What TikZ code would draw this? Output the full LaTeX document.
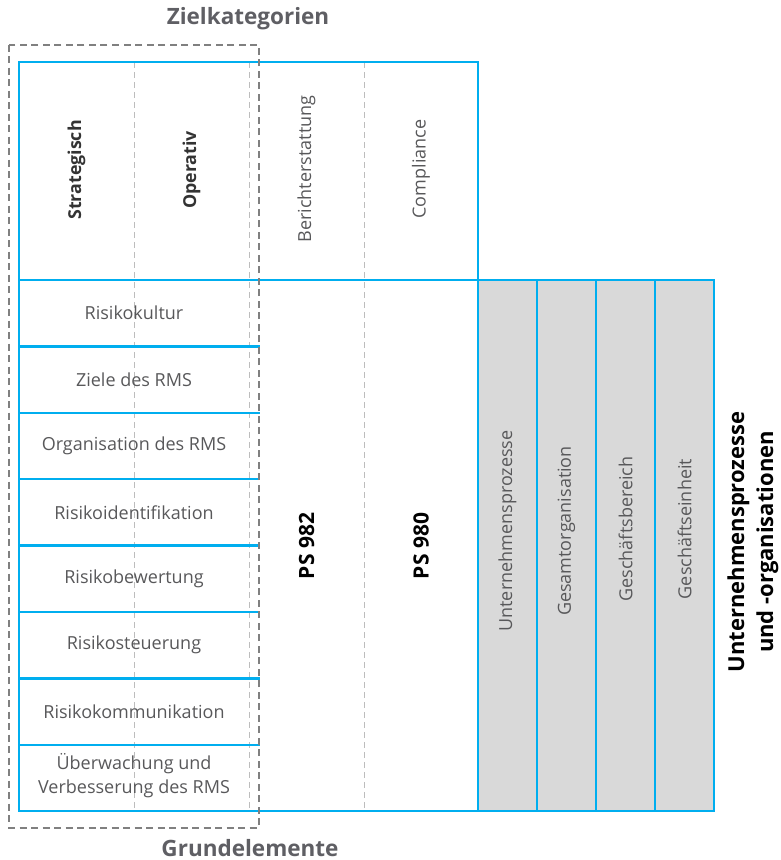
\documentclass[tikz,border=0pt]{standalone}
\usepackage{fontspec}
\setmainfont{Open Sans}
\definecolor{rmsblue}{HTML}{00AEEF}
\definecolor{cellgray}{HTML}{D9D9D9}
\definecolor{boxgray}{HTML}{808080}
\definecolor{lightdash}{HTML}{BDBDBD}
\definecolor{txtgray}{HTML}{58585A}
\definecolor{headgray}{HTML}{5F5F64}
\definecolor{boldtxt}{HTML}{333333}
\begin{document}
\begin{tikzpicture}[x=1pt,y=-1pt,
  blueline/.style={draw=rmsblue,line width=2.3pt},
  thindash/.style={draw=lightdash,line width=1pt,dash pattern=on 6pt off 4pt},
  groupbox/.style={draw=boxgray,line width=2pt,dash pattern=on 7pt off 4.5pt},
  rowlabel/.style={font=\fontsize{18}{24}\selectfont,text=txtgray,align=center,inner sep=0pt},
  collabel/.style={font=\fontsize{18}{22}\selectfont,text=txtgray,rotate=90,inner sep=0pt},
  boldcol/.style={font=\fontsize{17.8}{20}\selectfont\bfseries,text=boldtxt,rotate=90,inner sep=0pt},
  psl/.style={font=\fontsize{21}{24}\selectfont\bfseries,text=black,rotate=90,inner sep=0pt},
  title/.style={font=\fontsize{22.5}{26}\selectfont\bfseries,text=headgray,inner sep=0pt},
]
\useasboundingbox (0,0) rectangle (780,860);

% gray process columns
\fill[cellgray] (478,280) rectangle (714,811);

% light dashed column separators
\foreach \xx in {134,249,364}
  \draw[thindash] (\xx,62) -- (\xx,811);

% blue grid
\draw[blueline] (19,62) rectangle (478,811);
\draw[blueline] (19,280) -- (714,280) -- (714,811) -- (478,811);
\foreach \xx in {537,596,655}
  \draw[blueline] (\xx,280) -- (\xx,811);
\foreach \yy in {346.4,412.8,479.2,545.6,612,678.4,744.8}
  \draw[blueline] (19,\yy) -- (260,\yy);

% dashed group box
\draw[groupbox] (9,44.5) rectangle (258.5,827.5);

% titles
\node[title] (zk) at (248,19) {Zielkategorien};
\node[title,anchor=base,text depth=0pt] (ge) at (250,856) {Grundelemente};

% header column labels
\node[boldcol] (strat) at (76.5,170) {Strategisch};
\node[boldcol] (oper) at (191.5,170) {Operativ};
\node[collabel] (ber) at (306.5,169) {Berichterstattung};
\node[collabel] (comp) at (421,169) {Compliance};

% row labels
\node[rowlabel] (r1) at (134,313.2) {Risikokultur};
\node[rowlabel] (r2) at (134,379.6) {Ziele des RMS};
\node[rowlabel] (r3) at (134,446) {Organisation des RMS};
\node[rowlabel] (r4) at (134,512.4) {Risikoidentifikation};
\node[rowlabel] (r5) at (134,578.8) {Risikobewertung};
\node[rowlabel] (r6) at (134,645.2) {Risikosteuerung};
\node[rowlabel] (r7) at (134,711.6) {Risikokommunikation};
\node[rowlabel] (r8) at (134,776) {Überwachung und\\Verbesserung des RMS};

% PS labels
\node[psl] (ps982) at (306.5,546) {PS 982};
\node[psl] (ps980) at (421,546) {PS 980};

% process / organisation labels
\node[collabel] (p1) at (507.5,531) {Unternehmensprozesse};
\node[collabel] (p2) at (566.5,531) {Gesamtorganisation};
\node[collabel] (p3) at (625.5,529) {Geschäftsbereich};
\node[collabel] (p4) at (684.5,529) {Geschäftseinheit};

% right side label
\node[font=\fontsize{22}{29}\selectfont\bfseries,text=black,rotate=90,align=center,inner sep=0pt] (uo) at (753,542) {Unternehmensprozesse\\und -organisationen};
\end{tikzpicture}
\end{document}
